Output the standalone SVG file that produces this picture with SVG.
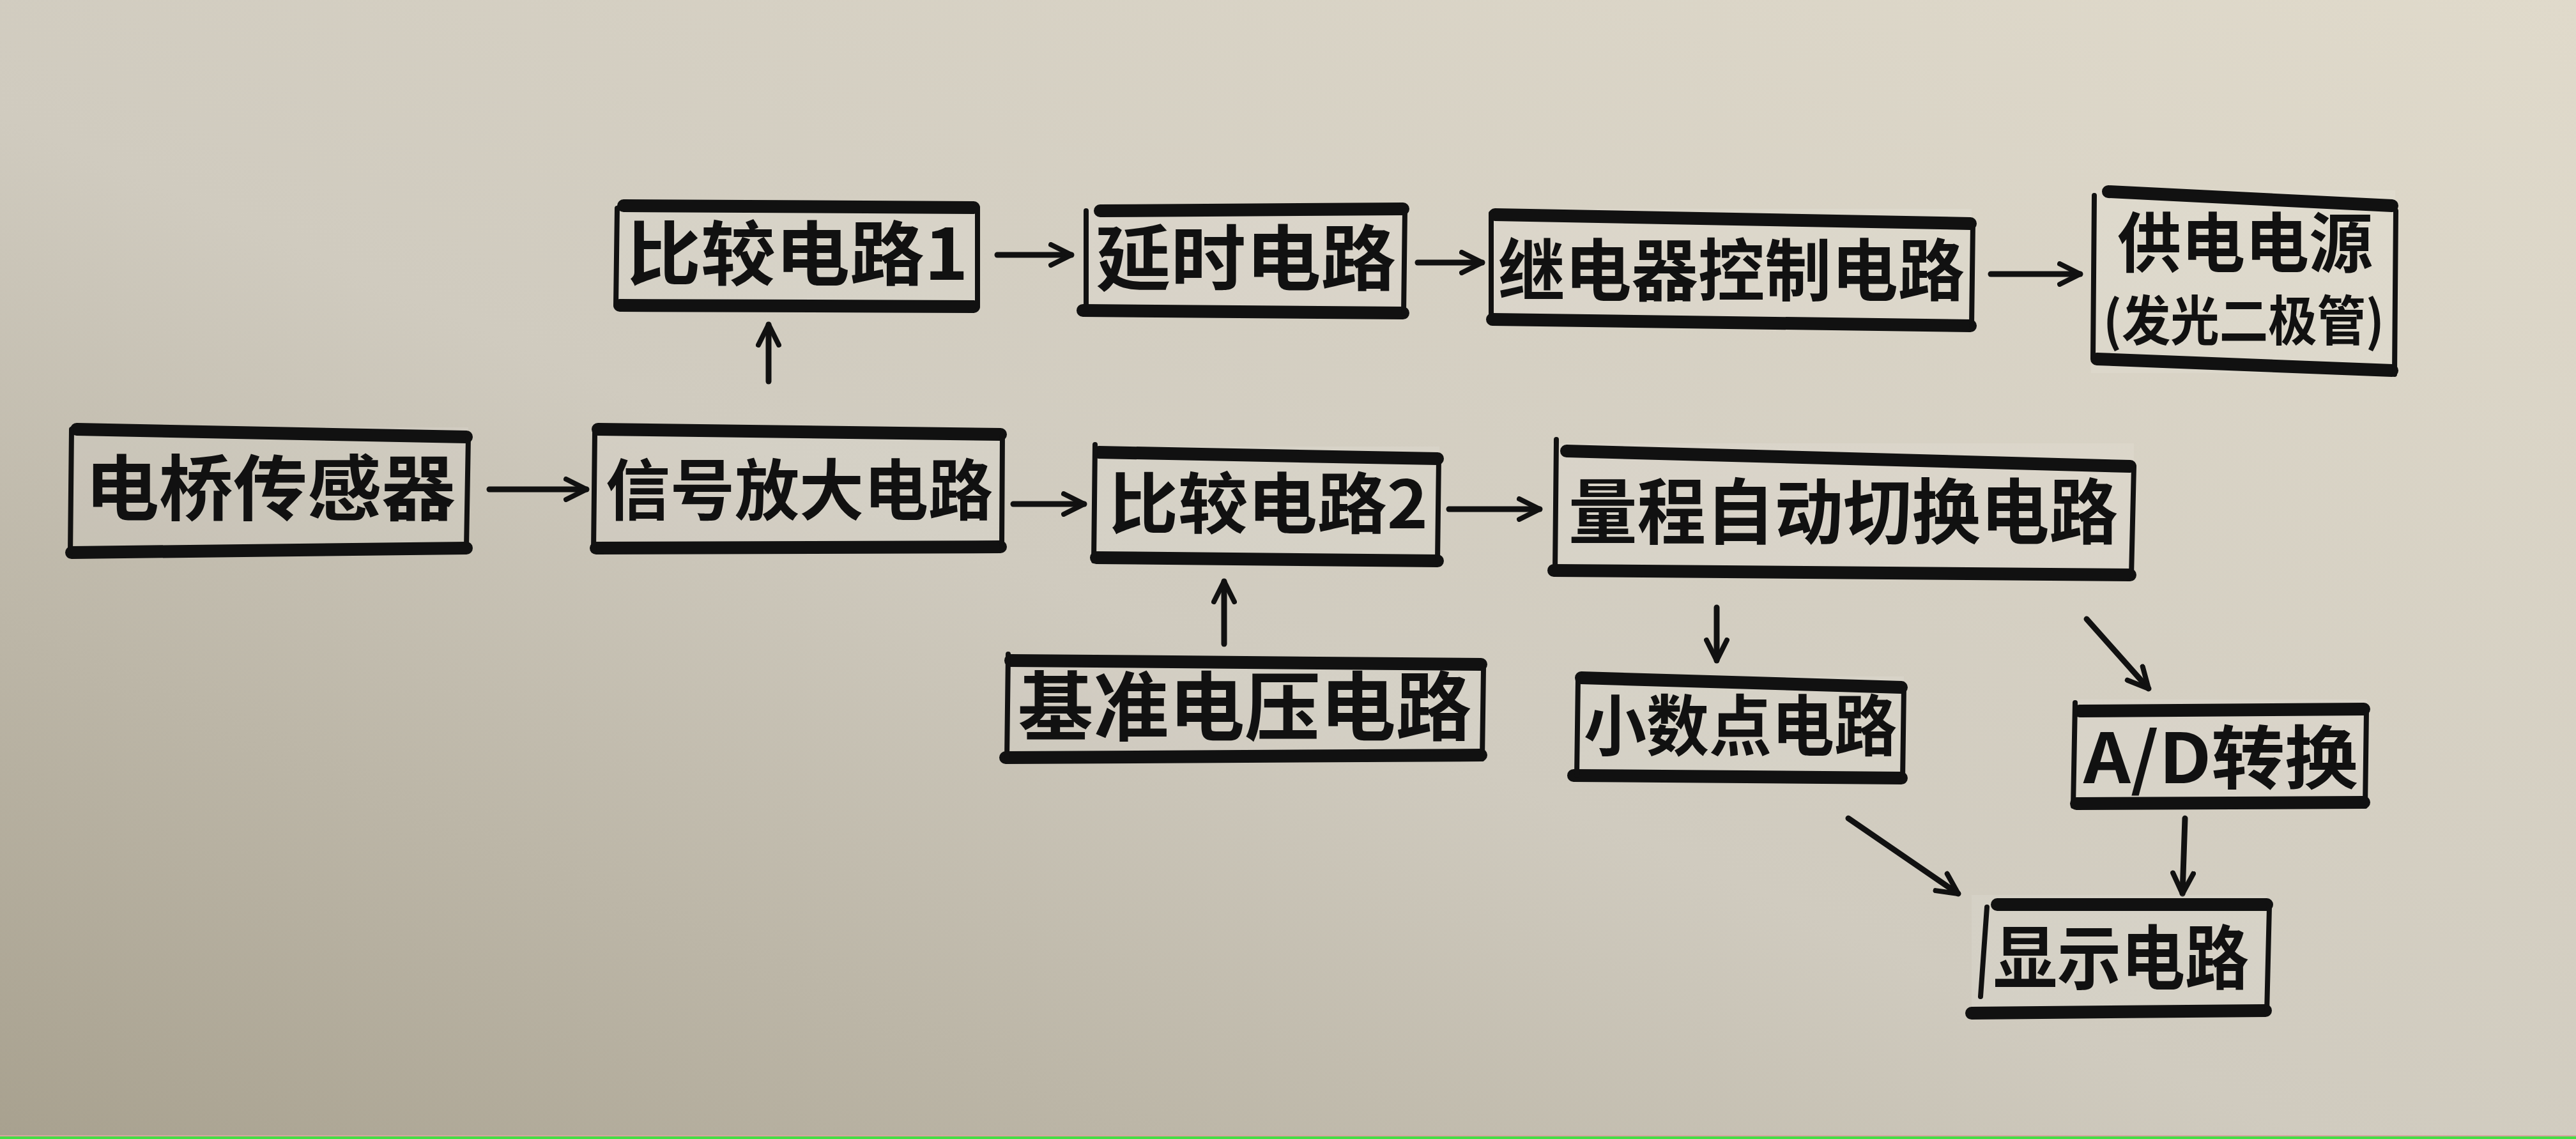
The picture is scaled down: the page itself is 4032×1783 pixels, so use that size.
<svg xmlns="http://www.w3.org/2000/svg" width="4032" height="1783" viewBox="0 0 4032 1783">
<defs>
<linearGradient id="bg" x1="0" y1="1" x2="1" y2="0">
<stop offset="0" stop-color="#a8a18f"/>
<stop offset="0.45" stop-color="#d0cbbf"/>
<stop offset="1" stop-color="#e0dacb"/>
</linearGradient>
<marker id="ah" viewBox="0 0 40 40" refX="36" refY="20" markerWidth="40" markerHeight="40" markerUnits="userSpaceOnUse" orient="auto">
<path d="M4,4 L36,20 L4,36" fill="none" stroke="#111" stroke-width="8" stroke-linecap="round" stroke-linejoin="round"/>
</marker>
<style>
.tb{stroke:#111;stroke-width:20;stroke-linecap:round;fill:none}
.sd{stroke:#111;stroke-width:8;stroke-linecap:round;fill:none}
.fill{fill:#ffffff;fill-opacity:0.1;stroke:none}
.t{font-family:"Noto Sans CJK SC","Noto Sans",sans-serif;font-weight:bold;fill:#111;text-anchor:middle}
.c{stroke:#111;stroke-width:9;stroke-linecap:round;fill:none;marker-end:url(#ah)}
</style>
</defs>
<rect x="0" y="0" width="4032" height="1783" fill="url(#bg)"/>
<rect x="0" y="1777" width="4032" height="2" fill="#d9a3a3"/>
<rect x="0" y="1779" width="4032" height="4" fill="#44dd44"/>

<g id="connectors">
<line class="c" x1="766" y1="766" x2="918" y2="766"/>
<line class="c" x1="1203" y1="597" x2="1203" y2="508"/>
<line class="c" x1="1561" y1="399" x2="1677" y2="399"/>
<line class="c" x1="2219" y1="411" x2="2320" y2="411"/>
<line class="c" x1="3116" y1="429" x2="3256" y2="429"/>
<line class="c" x1="1586" y1="789" x2="1697" y2="789"/>
<line class="c" x1="2268" y1="797" x2="2410" y2="797"/>
<line class="c" x1="1916" y1="1008" x2="1916" y2="910"/>
<line class="c" x1="2687" y1="951" x2="2687" y2="1034"/>
<line class="c" x1="3266" y1="969" x2="3363" y2="1078"/>
<line class="c" x1="2893" y1="1281" x2="3065" y2="1399"/>
<line class="c" x1="3420" y1="1281" x2="3416" y2="1399"/>
</g>

<g id="n1">
<rect class="fill" x="116" y="669" width="617" height="198"/>
<line class="tb" x1="120" y1="672" x2="730" y2="684"/>
<line class="tb" x1="112" y1="865" x2="730" y2="858"/>
<line class="sd" x1="112" y1="672" x2="110" y2="865"/>
<line class="sd" x1="733" y1="684" x2="730" y2="858"/>
<text class="t" x="423" y="806" font-size="112" textLength="580" lengthAdjust="spacingAndGlyphs">电桥传感器</text>
</g>
<g id="n2">
<rect class="fill" x="933" y="674" width="636" height="187"/>
<line class="tb" x1="936" y1="672" x2="1566" y2="680"/>
<line class="tb" x1="933" y1="858" x2="1566" y2="856"/>
<line class="sd" x1="931" y1="678" x2="929" y2="862"/>
<line class="sd" x1="1569" y1="680" x2="1568" y2="856"/>
<text class="t" x="1251" y="806" font-size="104" textLength="606" lengthAdjust="spacingAndGlyphs">信号放大电路</text>
</g>
<g id="n3">
<rect class="fill" x="964" y="319" width="563" height="162"/>
<line class="tb" x1="976" y1="322" x2="1524" y2="325"/>
<line class="tb" x1="970" y1="478" x2="1524" y2="480"/>
<line class="sd" x1="966" y1="326" x2="964" y2="478"/>
<line class="sd" x1="1530" y1="325" x2="1530" y2="480"/>
<text class="t" x="1248" y="438" font-size="110" textLength="535" lengthAdjust="spacingAndGlyphs">比较电路1</text>
</g>
<g id="n4">
<rect class="fill" x="1695" y="327" width="504" height="162"/>
<line class="tb" x1="1722" y1="330" x2="2196" y2="327"/>
<line class="tb" x1="1695" y1="486" x2="2196" y2="490"/>
<line class="sd" x1="1700" y1="330" x2="1700" y2="484"/>
<line class="sd" x1="2199" y1="330" x2="2197" y2="490"/>
<text class="t" x="1950" y="446" font-size="112" textLength="470" lengthAdjust="spacingAndGlyphs">延时电路</text>
</g>
<g id="n5">
<rect class="fill" x="2332" y="327" width="754" height="177"/>
<line class="tb" x1="2340" y1="336" x2="3084" y2="350"/>
<line class="tb" x1="2336" y1="500" x2="3084" y2="510"/>
<line class="sd" x1="2334" y1="334" x2="2334" y2="500"/>
<line class="sd" x1="3088" y1="350" x2="3086" y2="510"/>
<text class="t" x="2710" y="462" font-size="106" textLength="730" lengthAdjust="spacingAndGlyphs">继电器控制电路</text>
</g>
<g id="n6">
<rect class="fill" x="3273" y="298" width="476" height="286"/>
<line class="tb" x1="3300" y1="300" x2="3744" y2="322"/>
<line class="tb" x1="3282" y1="562" x2="3744" y2="580"/>
<line class="sd" x1="3278" y1="306" x2="3276" y2="560"/>
<line class="sd" x1="3750" y1="330" x2="3748" y2="586"/>
<text class="t" x="3514" y="418" font-size="102" textLength="400" lengthAdjust="spacingAndGlyphs">供电电源</text>
<text class="t" x="3512" y="533" font-size="84" textLength="440" lengthAdjust="spacingAndGlyphs">(发光二极管)</text>
</g>
<g id="n7">
<rect class="fill" x="1713" y="699" width="540" height="180"/>
<line class="tb" x1="1720" y1="708" x2="2250" y2="718"/>
<line class="tb" x1="1716" y1="873" x2="2250" y2="878"/>
<line class="sd" x1="1714" y1="696" x2="1712" y2="878"/>
<line class="sd" x1="2252" y1="718" x2="2250" y2="878"/>
<text class="t" x="1985" y="827" font-size="104" textLength="500" lengthAdjust="spacingAndGlyphs">比较电路2</text>
</g>
<g id="n8">
<rect class="fill" x="2430" y="694" width="910" height="206"/>
<line class="tb" x1="2452" y1="706" x2="3334" y2="730"/>
<line class="tb" x1="2432" y1="893" x2="3334" y2="900"/>
<line class="sd" x1="2436" y1="688" x2="2434" y2="892"/>
<line class="sd" x1="3340" y1="730" x2="3336" y2="902"/>
<text class="t" x="2885" y="843" font-size="112" textLength="860" lengthAdjust="spacingAndGlyphs">量程自动切换电路</text>
</g>
<g id="n9">
<rect class="fill" x="1574" y="1034" width="748" height="154"/>
<line class="tb" x1="1582" y1="1034" x2="2318" y2="1040"/>
<line class="tb" x1="1574" y1="1186" x2="2318" y2="1182"/>
<line class="sd" x1="1578" y1="1024" x2="1576" y2="1188"/>
<line class="sd" x1="2322" y1="1046" x2="2320" y2="1188"/>
<text class="t" x="1948" y="1150" font-size="118" textLength="710" lengthAdjust="spacingAndGlyphs">基准电压电路</text>
</g>
<g id="n10">
<rect class="fill" x="2463" y="1059" width="517" height="160"/>
<line class="tb" x1="2475" y1="1061" x2="2976" y2="1076"/>
<line class="tb" x1="2463" y1="1214" x2="2976" y2="1218"/>
<line class="sd" x1="2470" y1="1062" x2="2468" y2="1214"/>
<line class="sd" x1="2980" y1="1076" x2="2978" y2="1220"/>
<text class="t" x="2724" y="1175" font-size="104" textLength="490" lengthAdjust="spacingAndGlyphs">小数点电路</text>
</g>
<g id="n11">
<rect class="fill" x="3245" y="1095" width="460" height="167"/>
<line class="tb" x1="3255" y1="1113" x2="3700" y2="1110"/>
<line class="tb" x1="3250" y1="1258" x2="3700" y2="1256"/>
<line class="sd" x1="3248" y1="1100" x2="3245" y2="1262"/>
<line class="sd" x1="3704" y1="1112" x2="3702" y2="1262"/>
<text class="t" x="3476" y="1226" font-size="108" textLength="430" lengthAdjust="spacingAndGlyphs">A/D转换</text>
</g>
<g id="n12">
<rect class="fill" x="3086" y="1401" width="462" height="183"/>
<line class="tb" x1="3126" y1="1416" x2="3548" y2="1416"/>
<line class="tb" x1="3086" y1="1586" x2="3546" y2="1582"/>
<line class="sd" x1="3110" y1="1420" x2="3100" y2="1560"/>
<line class="sd" x1="3552" y1="1420" x2="3548" y2="1586"/>
<text class="t" x="3320" y="1540" font-size="110" textLength="400" lengthAdjust="spacingAndGlyphs">显示电路</text>
</g>
</svg>
